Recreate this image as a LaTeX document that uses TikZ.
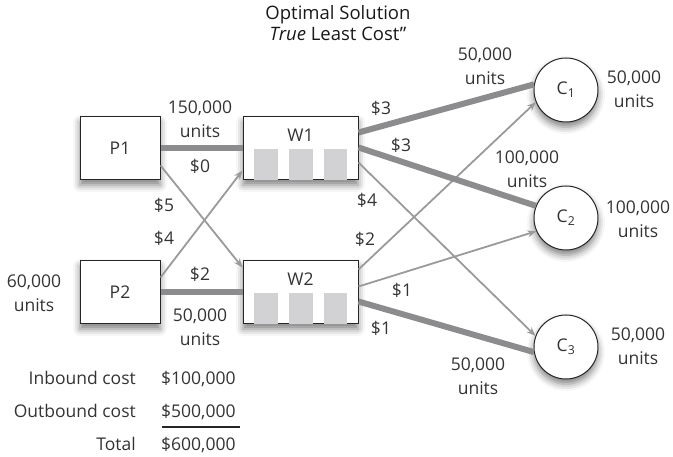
\documentclass[tikz,border=0pt]{standalone}
\usepackage{fontspec}
\setmainfont{Open Sans}
\usetikzlibrary{arrows.meta,shadows.blur,calc}
\definecolor{thk}{HTML}{8C8C8E}
\definecolor{thn}{HTML}{9A9A9C}
\definecolor{barc}{HTML}{D2D2D4}
\definecolor{txt}{HTML}{333333}
\tikzset{
  lbl/.style={font=\fontsize{17.5}{23.5}\selectfont, text=txt, align=center, inner sep=0pt},
  shad/.style={blur shadow={shadow xshift=0pt, shadow yshift=-5pt, shadow blur radius=7pt, shadow opacity=50}},
  pbox/.style={draw=black!85, line width=1pt, fill=white, minimum width=80pt, minimum height=63pt, inner sep=0pt, shad},
  wbox/.style={pbox, minimum width=115pt},
  cust/.style={circle, draw=black!85, line width=1pt, fill=white, minimum size=64pt, inner sep=0pt, shad, font=\fontsize{17.5}{20}\selectfont, text=txt},
  thick flow/.style={draw=thk, line width=6pt},
  thin flow/.style={draw=thn, line width=1.8pt, -{Stealth[length=9pt,width=7pt]}},
}
\begin{document}
\begin{tikzpicture}[x=1pt,y=-1pt]
\useasboundingbox (0,0) rectangle (673,457);
% nodes
\node[pbox, lbl] (P1) at (120,148.5) {P1};
\node[pbox, lbl] (P2) at (120,292.5) {P2};
\node[wbox] (W1) at (300.5,148.5) {};
\node[wbox] (W2) at (300.5,292.5) {};
\foreach \w in {W1,W2}{
  \fill[barc] ([xshift=11pt,yshift=31pt]\w.south west) rectangle ([xshift=35pt,yshift=0.5pt]\w.south west);
  \fill[barc] ([xshift=46pt,yshift=31pt]\w.south west) rectangle ([xshift=70pt,yshift=0.5pt]\w.south west);
  \fill[barc] ([xshift=81pt,yshift=31pt]\w.south west) rectangle ([xshift=104pt,yshift=0.5pt]\w.south west);
}
\node[lbl] (W1t) at (300.5,135) {W1};
\node[lbl] (W2t) at (300.5,279) {W2};
\node[cust] (C1) at (566,90) {C\textsubscript{1}};
\node[cust] (C2) at (566,218) {C\textsubscript{2}};
\node[cust] (C3) at (566,347) {C\textsubscript{3}};

% thin flows
\draw[thin flow] ([yshift=15pt]P1.south east) -- ([yshift=-7pt]W2.north west);
\draw[thin flow] ([yshift=-17pt]P2.north east) -- ([yshift=10pt]W1.south west);
\draw[thin flow] ([yshift=-46pt]W1.north east) -- (C3.160);
\draw[thin flow] ([yshift=-9pt]W2.north east) -- (C1.202);
\draw[thin flow] ([yshift=-26pt]W2.north east) -- (C2.204);
% thick flows
\draw[thick flow] (P1.east) -- (W1.west);
\draw[thick flow] (P2.east) -- (W2.west);
\draw[thick flow] ([yshift=-16pt]W1.north east) -- (C1.170);
\draw[thick flow] ([yshift=-31pt]W1.north east) -- (C2.158);
\draw[thick flow] ([yshift=-41pt]W2.north east) -- (C3.189);

% title
\node[lbl, font=\fontsize{18.5}{21}\selectfont, text=black!90] (title) at (338,23) {Optimal Solution\\\textit{True} Least Cost”};

% labels left side
\node[lbl] (u1) at (200,119) {150,000\\units};
\node[lbl] (c0) at (200,166) {\$0};
\node[lbl] (c5) at (164,205) {\$5};
\node[lbl] (c4) at (164,238) {\$4};
\node[lbl] (c2a) at (200,274) {\$2};
\node[lbl] (u2) at (200,327) {50,000\\units};
\node[lbl] (u3) at (34,293) {60,000\\units};

% labels right side
\node[lbl] (c3a) at (381,108) {\$3};
\node[lbl] (c3b) at (401,145) {\$3};
\node[lbl] (c4b) at (367,200) {\$4};
\node[lbl] (c2b) at (365,239) {\$2};
\node[lbl] (c1a) at (402,290) {\$1};
\node[lbl] (c1b) at (381,328) {\$1};
\node[lbl] (u4) at (485,66) {50,000\\units};
\node[lbl] (u5) at (527,169) {100,000\\units};
\node[lbl] (u6) at (478,376) {50,000\\units};
\node[lbl] (d1) at (634,89) {50,000\\units};
\node[lbl] (d2) at (638,219) {100,000\\units};
\node[lbl] (d3) at (638,346) {50,000\\units};

% cost table
\node[lbl, anchor=base east] (ib) at (136,385) {Inbound cost};
\node[lbl, anchor=base west] (ibv) at (161,385) {\$100,000};
\node[lbl, anchor=base east] (ob) at (136,418) {Outbound cost};
\node[lbl, anchor=base west] (obv) at (161,418) {\$500,000};
\node[lbl, anchor=base east] (tt) at (136,450) {Total};
\node[lbl, anchor=base west] (ttv) at (161,450) {\$600,000};
\draw[line width=1.2pt, black!85] (162,427) -- (240,427);
\end{tikzpicture}
\end{document}
